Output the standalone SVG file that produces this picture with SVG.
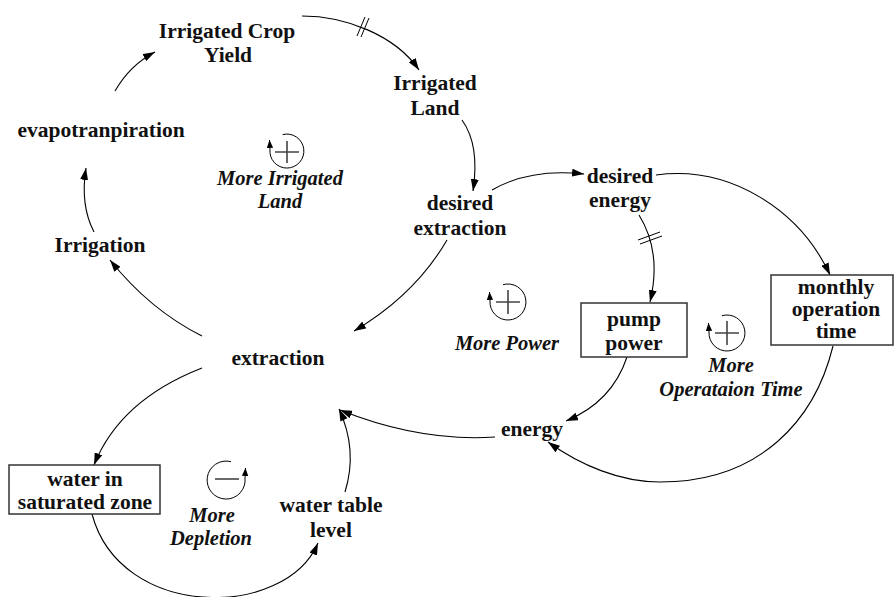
<svg xmlns="http://www.w3.org/2000/svg" width="895" height="597" viewBox="0 0 895 597">
<defs>
<marker id="ah" markerWidth="13" markerHeight="8" refX="12" refY="4" orient="auto" markerUnits="userSpaceOnUse">
<path d="M0,0 L12,4 L0,8 Z" fill="#000"/>
</marker>
<marker id="as" markerWidth="9" markerHeight="7" refX="8" refY="3.2" orient="auto" markerUnits="userSpaceOnUse">
<path d="M0,0 L8,3.2 L0,6.4 Z" fill="#000"/>
</marker>
</defs>
<style>
.t{font-family:"Liberation Serif","Times New Roman",serif;font-weight:bold;font-size:21.5px;fill:#111;text-anchor:middle}
.l{font-family:"Liberation Serif","Times New Roman",serif;font-weight:bold;font-style:italic;font-size:20.5px;fill:#111;text-anchor:middle}
.c{fill:none;stroke:#000;stroke-width:1.1;marker-end:url(#ah)}
.d{fill:none;stroke:#000;stroke-width:1}
.box{fill:#fff;stroke:#333;stroke-width:1.5}
.la{fill:none;stroke:#000;stroke-width:1;marker-end:url(#as)}
.sg{stroke:#444;stroke-width:1.6;fill:none}
</style>
<rect width="895" height="597" fill="#fff"/>
<g id="connectors">
<path class="c" d="M302,16 C345,16 395,35 419,70"/>
<path class="d" d="M357,36 L365,17 M361,37 L369,18"/>
<path class="c" d="M462,120 Q480,145 473,191"/>
<path class="c" d="M492,190 Q530,168 584,174"/>
<path class="c" d="M656,175 C730,165 800,210 830,275"/>
<path class="c" d="M639,215 Q662,252 650,302"/>
<path class="d" d="M638,240 L660,232 M640,244 L662,236"/>
<path class="c" d="M447,240 Q415,295 354,331"/>
<path class="c" d="M202,336 Q150,310 110,260"/>
<path class="c" d="M94,232 Q80,205 86,168"/>
<path class="c" d="M115,91 Q130,65 155,52"/>
<path class="c" d="M202,368 Q120,400 94,465"/>
<path class="c" d="M92,514 C120,620 285,620 318,543"/>
<path class="c" d="M345,492 Q358,450 339,409"/>
<path class="c" d="M495,437 Q420,442 340,410"/>
<path class="c" d="M627,357 Q612,402 566,421"/>
<path class="c" d="M833,346 C815,420 760,482 660,482 C620,482 580,465 548,442"/>
</g>
<g id="irrigated-crop-yield"><text class="t" x="227" y="38">Irrigated Crop</text><text class="t" x="228" y="62">Yield</text></g>
<g id="irrigated-land"><text class="t" x="435" y="90">Irrigated</text><text class="t" x="435" y="115">Land</text></g>
<g id="desired-extraction"><text class="t" x="460" y="210">desired</text><text class="t" x="460" y="235">extraction</text></g>
<g id="desired-energy"><text class="t" x="620" y="183">desired</text><text class="t" x="620" y="207">energy</text></g>
<g id="monthly-operation-time"><rect class="box" x="771" y="275" width="122" height="70"/><text class="t" x="836" y="294">monthly</text><text class="t" x="836" y="316">operation</text><text class="t" x="836" y="338">time</text></g>
<g id="pump-power"><rect class="box" x="581" y="303" width="106" height="54"/><text class="t" x="634" y="326">pump</text><text class="t" x="634" y="350">power</text></g>
<g id="energy"><text class="t" x="532" y="436">energy</text></g>
<g id="extraction"><text class="t" x="278" y="365">extraction</text></g>
<g id="irrigation"><text class="t" x="100" y="252">Irrigation</text></g>
<g id="evapotranpiration"><text class="t" x="101" y="137">evapotranpiration</text></g>
<g id="water-in-saturated-zone"><rect class="box" x="9" y="465" width="151" height="49"/><text class="t" x="85" y="486">water in</text><text class="t" x="85" y="509">saturated zone</text></g>
<g id="water-table-level"><text class="t" x="331" y="512">water table</text><text class="t" x="331" y="537">level</text></g>
<g id="loop-more-irrigated-land">
<path class="la" d="M282.6,134.6 A17,17 0 1 1 270,149 L269.5,140"/>
<path class="sg" d="M275,152 H299 M287,141 V163"/>
<text class="l" x="280" y="185">More Irrigated</text><text class="l" x="280" y="208">Land</text>
</g>
<g id="loop-more-power">
<path class="la" d="M503,284.7 A18,18 0 1 1 490,301 L489.5,292"/>
<path class="sg" d="M496,302 H520 M508,290 V314"/>
<text class="l" x="507" y="350">More Power</text>
</g>
<g id="loop-more-operation-time">
<path class="la" d="M722,315.7 A18,18 0 1 1 709,332 L708.5,323"/>
<path class="sg" d="M715,333 H739 M727,321 V345"/>
<text class="l" x="731" y="372">More</text><text class="l" x="731" y="396">Operataion Time</text>
</g>
<g id="loop-more-depletion">
<path class="la" d="M231,461.7 A19,19 0 1 0 245,478 L245.5,468"/>
<path class="sg" d="M215,479 H239"/>
<text class="l" x="212" y="522">More</text><text class="l" x="211" y="545">Depletion</text>
</g>
</svg>
